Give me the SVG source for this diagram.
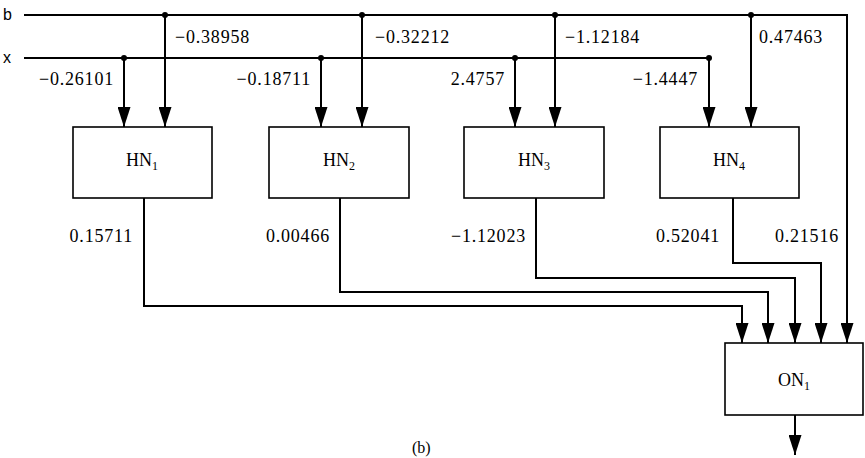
<svg xmlns="http://www.w3.org/2000/svg" width="865" height="458" viewBox="0 0 865 458">
<style>
.w{fill:none;stroke:#000;stroke-width:2}
.a{marker-end:url(#arr)}
.box{fill:#fff;stroke:#000;stroke-width:1.6}
.lbl{font-family:"Liberation Serif","Times New Roman",serif;font-size:18px;letter-spacing:0.8px;fill:#000}
.e{text-anchor:end}
.nm{font-family:"Liberation Serif","Times New Roman",serif;font-size:18px;fill:#000;text-anchor:middle}
.sub{font-size:12px}
.io{font-family:"Liberation Sans",Arial,sans-serif;font-size:16px;fill:#000}
</style>
<defs>
<marker id="arr" viewBox="0 0 20 13" refX="20" refY="6.5" markerWidth="20" markerHeight="13" markerUnits="userSpaceOnUse" orient="auto">
<path d="M0,0 L20,6.5 L0,13 z" fill="#000"/>
</marker>
</defs>
<rect width="865" height="458" fill="#fff"/>
<g id="inputs">
<text class="io" x="3" y="20">b</text>
<text class="io" x="3" y="63">x</text>
</g>
<g id="connectors">
<path class="w" d="M24,15 H847 V343" marker-end="url(#arr)"/>
<path class="w" d="M24,58 H709"/>
<path class="w a" d="M124,58 V127"/>
<path class="w a" d="M165,15 V127"/>
<path class="w a" d="M321,58 V127"/>
<path class="w a" d="M362,15 V127"/>
<path class="w a" d="M515,58 V127"/>
<path class="w a" d="M555,15 V127"/>
<path class="w a" d="M709,58 V127"/>
<path class="w a" d="M751,15 V127"/>
<path class="w a" d="M144,198 V306 H742 V343"/>
<path class="w a" d="M340,198 V292 H768 V343"/>
<path class="w a" d="M536,198 V278 H795 V343"/>
<path class="w a" d="M733,198 V263 H821 V343"/>
<path class="w a" d="M795,415 V455"/>
<g fill="#000">
<circle cx="165" cy="15" r="3"/><circle cx="362" cy="15" r="3"/><circle cx="555" cy="15" r="3"/><circle cx="751" cy="15" r="3"/>
<circle cx="124" cy="58" r="3"/><circle cx="321" cy="58" r="3"/><circle cx="515" cy="58" r="3"/><circle cx="709" cy="58" r="3"/>
</g>
</g>
<g id="weights">
<text class="lbl" x="175" y="43">−0.38958</text>
<text class="lbl" x="375" y="43">−0.32212</text>
<text class="lbl" x="565" y="43">−1.12184</text>
<text class="lbl" x="759" y="43">0.47463</text>
<text class="lbl e" x="114" y="85">−0.26101</text>
<text class="lbl e" x="311" y="85">−0.18711</text>
<text class="lbl e" x="505" y="85">2.4757</text>
<text class="lbl e" x="698" y="85">−1.4447</text>
<text class="lbl e" x="133" y="242">0.15711</text>
<text class="lbl e" x="330" y="242">0.00466</text>
<text class="lbl e" x="526" y="242">−1.12023</text>
<text class="lbl e" x="720" y="242">0.52041</text>
<text class="lbl e" x="839" y="242">0.21516</text>
</g>
<g id="HN1">
<rect class="box" x="73" y="127" width="139" height="71"/>
<text class="nm" x="142" y="166">HN<tspan class="sub" dy="4">1</tspan></text>
</g>
<g id="HN2">
<rect class="box" x="269" y="127" width="140" height="71"/>
<text class="nm" x="339" y="166">HN<tspan class="sub" dy="4">2</tspan></text>
</g>
<g id="HN3">
<rect class="box" x="464" y="127" width="140" height="71"/>
<text class="nm" x="534" y="166">HN<tspan class="sub" dy="4">3</tspan></text>
</g>
<g id="HN4">
<rect class="box" x="660" y="127" width="139" height="71"/>
<text class="nm" x="729" y="166">HN<tspan class="sub" dy="4">4</tspan></text>
</g>
<g id="ON1">
<rect class="box" x="725" y="343" width="138" height="72"/>
<text class="nm" x="794" y="386">ON<tspan class="sub" dy="4">1</tspan></text>
</g>
<text x="412" y="453" font-family="'Liberation Serif','Times New Roman',serif" font-size="16">(b)</text>
</svg>
